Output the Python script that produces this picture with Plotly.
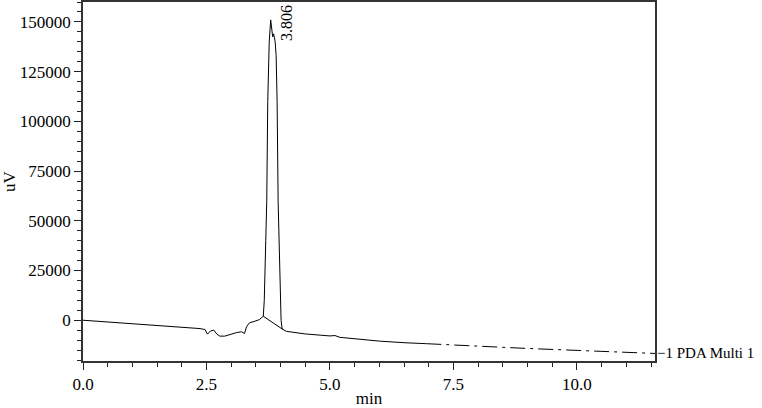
import plotly.graph_objects as go

# chromatogram, solid part (min, uV)
time_solid = [0.00, 0.50, 1.00, 1.50, 2.00, 2.37, 2.47, 2.52, 2.58, 2.65, 2.71, 2.77,
              2.87, 2.98, 3.11, 3.21, 3.27, 3.31, 3.37, 3.48, 3.57, 3.65, 3.67, 3.70,
              3.72, 3.74, 3.77, 3.80, 3.82, 3.84, 3.86, 3.89, 3.91, 3.93, 3.95, 3.98,
              4.01, 4.03, 4.05, 4.12, 4.50, 5.00, 5.10, 5.20, 5.50, 6.00, 6.50, 6.95]
signal_solid = [0, -850, -1650, -2400, -3300, -4200, -4700, -7000, -5400, -5000, -7000, -8000,
                -8000, -7000, -6200, -5800, -6700, -3300, -1300, -500, 300, 2000, 10000, 40000,
                60000, 110000, 140000, 151000, 146000, 142500, 144000, 140000, 133000, 110000, 60000, 20000,
                0, -4000, -4700, -5600, -6900, -7900, -7700, -8600, -9400, -10500, -11300, -11800]

# tail drawn dash-dot
time_tail = [6.95, 9.00, 11.58]
signal_tail = [-11800, -14200, -16700]

# integration baseline under the peak
base_time = [3.65, 4.05]
base_signal = [2000, -4700]

peak_rt = 3.806
peak_height = 151000

x_ticks = [0.0, 2.5, 5.0, 7.5, 10.0]
y_ticks = [0, 25000, 50000, 75000, 100000, 125000, 150000]

FONT = "Liberation Serif, Times New Roman, serif"

fig = go.Figure()
fig.add_trace(go.Scatter(x=time_solid, y=signal_solid, mode="lines",
                         line=dict(color="black", width=1), showlegend=False))
fig.add_trace(go.Scatter(x=time_tail, y=signal_tail, mode="lines",
                         line=dict(color="black", width=1, dash="15px,5px,3px,5px"),
                         showlegend=False))
fig.add_trace(go.Scatter(x=base_time, y=base_signal, mode="lines",
                         line=dict(color="black", width=1), showlegend=False))

fig.add_annotation(x=peak_rt, y=peak_height, text="3.806", textangle=-90,
                   showarrow=False, xshift=16, yshift=-3, yanchor="middle",
                   font=dict(family=FONT, size=16, color="black"))
fig.add_annotation(x=1, xref="paper", y=signal_tail[-1], text="\u22121 PDA Multi 1",
                   showarrow=False, xanchor="left", xshift=0,
                   font=dict(family=FONT, size=15, color="black"))

axis_common = dict(showgrid=False, zeroline=False, showline=True, mirror=True,
                   linecolor="#333", linewidth=1.5, ticks="outside", ticklen=7,
                   tickcolor="#222", tickwidth=1.2, automargin=False,
                   tickfont=dict(family=FONT, size=17, color="black"))

fig.update_layout(
    width=762, height=408,
    paper_bgcolor="white", plot_bgcolor="white",
    margin=dict(l=83, r=107, t=2, b=47),
    xaxis=dict(range=[0, 11.58], tickvals=x_ticks, tickformat=".1f",
               minor=dict(dtick=0.5, ticks="outside", ticklen=4, tickcolor="#222"),
               title=dict(text="min", standoff=3, font=dict(family=FONT, size=17, color="black")),
               **axis_common),
    yaxis=dict(range=[-20500, 160000], tickvals=y_ticks, tickformat="d",
               minor=dict(dtick=5000, ticks="outside", ticklen=4, tickcolor="#222"),
               title=dict(text="uV", standoff=8, font=dict(family=FONT, size=17, color="black")),
               **axis_common),
)

fig.write_html("out.html", config={"displayModeBar": False},
               post_script="document.body.style.margin='0';")
